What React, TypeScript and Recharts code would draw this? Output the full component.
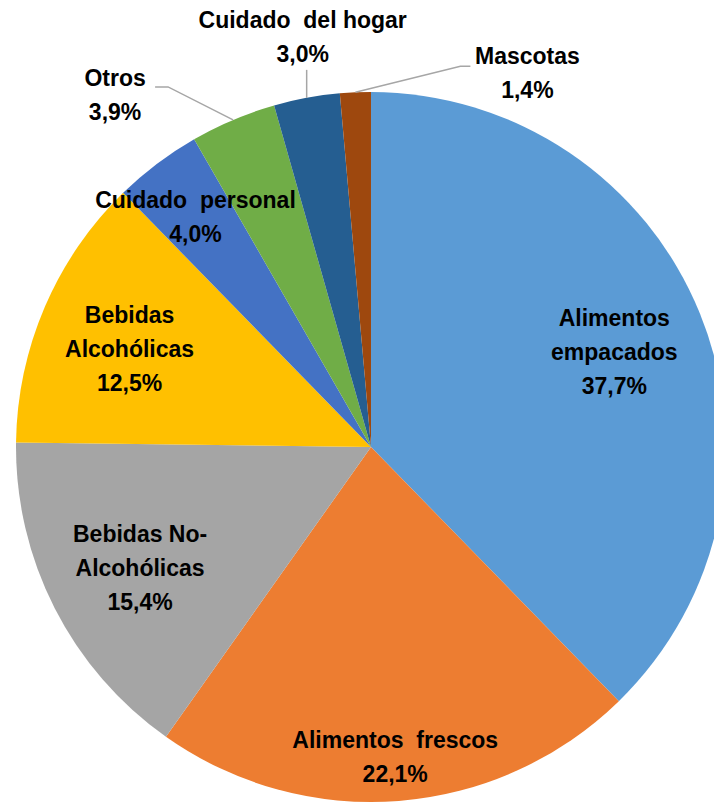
import React from 'react'
import { PieChart, Pie, Cell } from 'recharts'

const categories = [
  'Alimentos empacados',
  'Alimentos frescos',
  'Bebidas No-Alcohólicas',
  'Bebidas Alcohólicas',
  'Cuidado personal',
  'Otros',
  'Cuidado del hogar',
  'Mascotas',
]
const shares = [37.7, 22.1, 15.4, 12.5, 4.0, 3.9, 3.0, 1.4]
const labelLines = [
  ['Alimentos', 'empacados'],
  ['Alimentos  frescos'],
  ['Bebidas No-', 'Alcohólicas'],
  ['Bebidas', 'Alcohólicas'],
  ['Cuidado  personal'],
  ['Otros'],
  ['Cuidado  del hogar'],
  ['Mascotas'],
]

const colors = ['#5B9BD5', '#ED7D31', '#A5A5A5', '#FFC000', '#4472C4', '#70AD47', '#255E91', '#9E480E']

// inside labels: radius ratio + small nudge; outside labels: offset from arc point + leader path
const placement: any[] = [
  { r: 0.74, dy: 4 },
  { r: 0.87, dy: 2 },
  { r: 0.73, dy: 3 },
  { r: 0.74, dy: 6 },
  { r: 0.82, dy: 2 },
  { out: [-118, -25], leader: [[-65, -33], [-78, -33]] },
  { out: [-4, -61], leader: [[0, -28]] },
  { out: [172, -19], leader: [[105, -26], [115, -26]] },
]

const data = categories.map((name, i) => ({ name, value: shares[i] }))

const RAD = Math.PI / 180
const LINE_H = 34

const renderLabel = (props: any) => {
  const { cx, cy, midAngle, outerRadius, index } = props
  const p = placement[index]
  const cos = Math.cos(-midAngle * RAD)
  const sin = Math.sin(-midAngle * RAD)
  const lines = [...labelLines[index], shares[index].toFixed(1).replace('.', ',') + '%']
  let tx: number, ty: number
  let leader = null
  if (p.out) {
    const ax = cx + outerRadius * cos
    const ay = cy + outerRadius * sin
    tx = ax + p.out[0]
    ty = ay + p.out[1]
    const pts = [[ax, ay], ...p.leader.map((d: number[]) => [ax + d[0], ay + d[1]])]
    leader = (
      <polyline points={pts.map((q) => q.join(',')).join(' ')} fill="none" stroke="#A6A6A6" strokeWidth={1.5} />
    )
  } else {
    tx = cx + outerRadius * p.r * cos
    ty = cy + outerRadius * p.r * sin + p.dy
  }
  const top = ty - ((lines.length - 1) * LINE_H) / 2
  return (
    <g key={'lbl' + index}>
      {leader}
      <text
        x={tx}
        y={top}
        textAnchor="middle"
        dominantBaseline="central"
        fill="#000"
        fontSize={23}
        fontWeight="bold"
        fontFamily="'Liberation Sans', Arial, sans-serif"
        style={{ whiteSpace: 'pre' }}
      >
        {lines.map((l, i) => (
          <tspan key={i} x={tx} dy={i === 0 ? 0 : LINE_H}>
            {l}
          </tspan>
        ))}
      </text>
    </g>
  )
}

export default function App() {
  return (
    <div style={{ position: 'absolute', left: 0, top: 0, width: 714, height: 803, background: '#fff', overflow: 'hidden' }}>
      <style>{`.recharts-pie-sectors { filter: drop-shadow(4px 5px 9px rgba(0,0,0,0.35)); }`}</style>
      <PieChart width={714} height={803} margin={{ top: 0, right: 0, bottom: 0, left: 0 }}>
        <Pie
          data={data}
          dataKey="value"
          nameKey="name"
          cx={371}
          cy={447}
          outerRadius={355}
          startAngle={90}
          endAngle={-270}
          stroke="none"
          label={renderLabel}
          labelLine={false}
          isAnimationActive={false}
        >
          {data.map((d, i) => (
            <Cell key={d.name} fill={colors[i]} />
          ))}
        </Pie>
      </PieChart>
    </div>
  )
}
